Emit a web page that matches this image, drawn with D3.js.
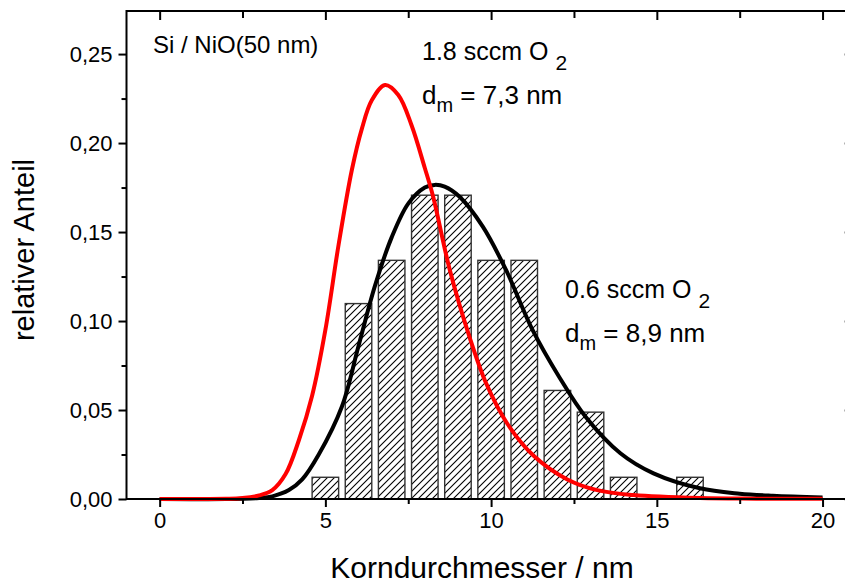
<!DOCTYPE html>
<html>
<head>
<meta charset="utf-8">
<script src="https://cdn.jsdelivr.net/npm/d3@7"></script>
<style>
  body { margin: 0; background: #fff; }
  text { font-family: "Liberation Sans", Arial, sans-serif; fill: #000; }
</style>
</head>
<body>
<div id="chart"></div>
<script>
var width = 845;
var height = 584;

// histogram: bin centres (nm) and relative share, 0.6 sccm O2
var binCenters = [5, 6, 7, 8, 9, 10, 11, 12, 13, 14, 16];
var binShares = [0.0122, 0.1098, 0.1341, 0.1707, 0.1707, 0.1341, 0.1341, 0.0610, 0.0488, 0.0122, 0.0122];

// fitted curve 1.8 sccm O2 (red)
var redD = [0, 1, 2, 2.5, 3, 3.4, 3.8, 4.2, 4.6, 5.0, 5.4, 5.8, 6.1, 6.4, 6.8, 7.2, 7.6, 8.0, 8.25, 8.75, 9.35, 9.85, 10.5, 11.3, 12.3, 13.2, 14.3, 16.3, 18, 20];
var redShare = [0, 0, 0.0001, 0.0005, 0.002, 0.005, 0.014, 0.033, 0.058, 0.095, 0.143, 0.185, 0.208, 0.224, 0.2326, 0.227, 0.210, 0.186, 0.170, 0.129, 0.091, 0.065, 0.042, 0.024, 0.011, 0.005, 0.0022, 0.0005, 0.0002, 0.0001];

// fitted curve 0.6 sccm O2 (black)
var blackD = [0, 2, 3, 3.4, 3.9, 4.3, 4.8, 5.5, 6.0, 6.5, 7.0, 7.5, 8.0, 8.3, 8.6, 9.05, 9.75, 10.45, 11.25, 12.05, 12.85, 13.9, 14.9, 16.3, 17.5, 18.5, 20];
var blackShare = [0, 0, 0.0006, 0.0015, 0.005, 0.011, 0.025, 0.052, 0.086, 0.120, 0.147, 0.166, 0.175, 0.1765, 0.1755, 0.1698, 0.153, 0.1287, 0.095, 0.0687, 0.0462, 0.0257, 0.0144, 0.006, 0.003, 0.0018, 0.0008];

var xTicks = [0, 5, 10, 15, 20];
var xMinorTicks = [2.5, 7.5, 12.5, 17.5];
var yTicks = [0, 0.05, 0.10, 0.15, 0.20, 0.25];
var yTickLabels = ["0,00", "0,05", "0,10", "0,15", "0,20", "0,25"];
var yMinorTicks = [0.025, 0.075, 0.125, 0.175, 0.225];

// plot frame (right edge falls outside the window, as in the original)
var frameL = 126.5, frameR = 855.7, frameT = 11, frameB = 499;

var xScale = d3.scaleLinear().domain([-1, 21]).range([frameL, frameR]);
var yScale = d3.scaleLinear().domain([0, 0.2742]).range([frameB, frameT]);

var svg = d3.select("#chart").append("svg")
    .attr("width", width)
    .attr("height", height);

// hatch for the bars
svg.append("defs").append("pattern")
    .attr("id", "hatch")
    .attr("patternUnits", "userSpaceOnUse")
    .attr("width", 7)
    .attr("height", 7)
    .append("path")
    .attr("d", "M-2,2 l4,-4 M0,7 l7,-7 M5,9 l4,-4")
    .style("stroke", "#000")
    .style("stroke-width", 1.1);

var binWidth = 0.8;
svg.selectAll(".bar")
    .data(binCenters)
    .enter().append("rect")
    .attr("class", "bar")
    .attr("x", function(d) { return xScale(d - binWidth / 2); })
    .attr("width", function(d) { return xScale(binWidth) - xScale(0); })
    .attr("y", function(d, i) { return yScale(binShares[i]); })
    .attr("height", function(d, i) { return frameB - yScale(binShares[i]); })
    .style("fill", "url(#hatch)")
    .style("stroke", "#333")
    .style("stroke-width", 1.4);

var line = d3.line()
    .x(function(d) { return xScale(d[0]); })
    .y(function(d) { return yScale(d[1]); })
    .curve(d3.curveCatmullRom.alpha(0.5));

svg.append("path")
    .attr("d", line(d3.zip(blackD, blackShare)))
    .style("fill", "none")
    .style("stroke", "#000")
    .style("stroke-width", 4);

svg.append("path")
    .attr("d", line(d3.zip(redD, redShare)))
    .style("fill", "none")
    .style("stroke", "#ff0000")
    .style("stroke-width", 4);

// frame
svg.append("rect")
    .attr("x", frameL).attr("y", frameT)
    .attr("width", frameR - frameL).attr("height", frameB - frameT)
    .style("fill", "none")
    .style("stroke", "#000")
    .style("stroke-width", 2);

function plainTicks(g) {
    g.select(".domain").remove();
    g.selectAll("line").style("stroke-width", 2);
}

// bottom axis, ticks outward
var xAxis = d3.axisBottom(xScale).tickValues(xTicks).tickSize(8).tickPadding(5).tickFormat(d3.format("d"));
var gx = svg.append("g").attr("transform", "translate(0," + frameB + ")").call(xAxis);
plainTicks(gx);
gx.attr("font-size", null).attr("font-family", null);
gx.selectAll("text").style("font-size", "22px");
svg.append("g").attr("transform", "translate(0," + frameB + ")")
    .call(d3.axisBottom(xScale).tickValues(xMinorTicks).tickSize(5).tickFormat(""))
    .call(plainTicks);

// top axis, ticks inward
svg.append("g").attr("transform", "translate(0," + frameT + ")")
    .call(d3.axisTop(xScale).tickValues(xTicks).tickSize(-9).tickFormat(""))
    .call(plainTicks);
svg.append("g").attr("transform", "translate(0," + frameT + ")")
    .call(d3.axisTop(xScale).tickValues(xMinorTicks).tickSize(-7).tickFormat(""))
    .call(plainTicks);

// left axis, ticks outward
var yAxis = d3.axisLeft(yScale).tickValues(yTicks).tickSize(8).tickPadding(6)
    .tickFormat(function(d, i) { return yTickLabels[i]; });
var gy = svg.append("g").attr("transform", "translate(" + frameL + ",0)").call(yAxis);
plainTicks(gy);
gy.attr("font-size", null).attr("font-family", null);
gy.selectAll("text").style("font-size", "22px");
svg.append("g").attr("transform", "translate(" + frameL + ",0)")
    .call(d3.axisLeft(yScale).tickValues(yMinorTicks).tickSize(5).tickFormat(""))
    .call(plainTicks);

// right axis, ticks inward
svg.append("g").attr("transform", "translate(" + frameR + ",0)")
    .call(d3.axisRight(yScale).tickValues(yTicks).tickSize(-11).tickFormat(""))
    .call(plainTicks);
svg.append("g").attr("transform", "translate(" + frameR + ",0)")
    .call(d3.axisRight(yScale).tickValues(yMinorTicks).tickSize(-6).tickFormat(""))
    .call(plainTicks);

// axis titles
svg.append("text")
    .attr("x", 482).attr("y", 578)
    .attr("text-anchor", "middle")
    .style("font-size", "30px")
    .text("Korndurchmesser / nm");

svg.append("text")
    .attr("transform", "translate(34,250) rotate(-90)")
    .attr("text-anchor", "middle")
    .style("font-size", "29px")
    .text("relativer Anteil");

// annotations
svg.append("text")
    .attr("x", 153).attr("y", 53)
    .style("font-size", "24px")
    .text("Si / NiO(50 nm)");

function label(x, y, flow, dm) {
    var t1 = svg.append("text").attr("x", x).attr("y", y).style("font-size", "25px");
    t1.append("tspan").text(flow + " sccm O ");
    t1.append("tspan").attr("dy", 10).style("font-size", "21px").text("2");
    var t2 = svg.append("text").attr("x", x).attr("y", y + 44).style("font-size", "26px");
    t2.append("tspan").text("d");
    t2.append("tspan").attr("dy", 8).style("font-size", "20px").text("m");
    t2.append("tspan").attr("dy", -8).text(" = " + dm + " nm");
}
label(422, 60, "1.8", "7,3");
label(565, 298, "0.6", "8,9");
</script>
</body>
</html>
